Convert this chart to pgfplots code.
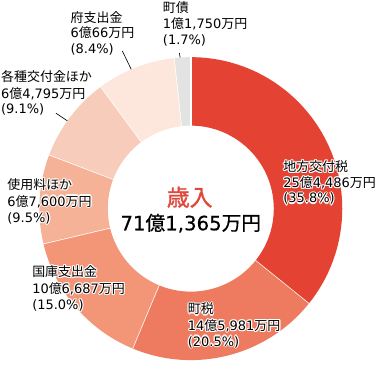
\documentclass[border=0pt]{standalone}
\usepackage{pgfplots}
\pgfplotsset{compat=1.18}
\usepackage{fontspec}
\setmainfont{DejaVu Sans}
\newfontfamily\cjk{Noto Sans CJK JP}
\newfontfamily\cjkb{Noto Sans CJK JP}[FakeBold=1.2]
\newfontfamily\cjkm{Noto Sans CJK JP}[FakeBold=0.5]
\newfontfamily\latm{DejaVu Sans}[FakeBold=0.5]
\newcommand\J[1]{{\cjk #1}}
\newcommand\JM[1]{{\cjkm #1}}
\definecolor{c1}{HTML}{E44232}
\definecolor{c2}{HTML}{EE7B5F}
\definecolor{c3}{HTML}{F29677}
\definecolor{c4}{HTML}{F5B297}
\definecolor{c5}{HTML}{F8CCBA}
\definecolor{c6}{HTML}{FDE6DC}
\definecolor{c7}{HTML}{E3E3E3}
\definecolor{cred}{HTML}{E0483A}
\tikzset{lblst/.style={anchor=west,inner sep=0pt,font=\fontsize{12.5bp}{15bp}\selectfont,text height=10.5bp,text depth=1.5bp}}
\newcommand\lline[3]{%
  \foreach \dx/\dy in {1.1/0,-1.1/0,0/1.1,0/-1.1,0.8/0.8,0.8/-0.8,-0.8/0.8,-0.8/-0.8}{%
    \node[lblst,white,xshift=\dx bp,yshift=\dy bp] at (axis cs:#1,#2) {#3};}%
  \node[lblst,black] at (axis cs:#1,#2) {#3};}
\begin{document}
\begin{tikzpicture}
\begin{axis}[width=377bp,height=370bp,scale only axis,hide axis,
  xmin=0,xmax=377,ymin=0,ymax=370,y dir=reverse,clip=false]
% leader lines
\addplot[black,line width=0.6pt] coordinates {(184,65) (186,77)};
\addplot[black,line width=0.6pt] coordinates {(129,63) (143,92)};
\addplot[black,line width=0.6pt] coordinates {(65,123) (86,137)};
\pgfplotsextra{
  \def\cum{0}
  \foreach \v/\c in {35.8/c1,20.5/c2,15.0/c3,9.5/c4,9.1/c5,8.4/c6,1.7/c7}{
    \pgfmathsetmacro\aa{90-3.6*\cum}
    \pgfmathsetmacro\ab{90-3.6*(\cum+\v)}
    \fill[\c] (axis cs:195,215) ++(\aa:146bp) arc[start angle=\aa,end angle=\ab,radius=146bp]
      -- ++(\ab+180:66bp) arc[start angle=\ab,end angle=\aa,radius=80bp] -- cycle;
    \draw[white,line width=1.4pt] (axis cs:195,215) ++(\ab:79bp) -- ++(\ab:68bp);
    \pgfmathsetmacro\nc{\cum+\v}
    \global\let\cum\nc
  }
  \draw[white,line width=1.4pt] (axis cs:195,215) ++(90:79bp) -- ++(90:68bp);
  \lline{168}{21}{\J{町債}}
  \lline{168}{37}{1\J{億}1,750\J{万円}}
  \lline{168}{52}{(1.7\%)}
  \lline{79}{31}{\J{府支出金}}
  \lline{79}{46}{6\J{億}66\J{万円}}
  \lline{79}{61}{(8.4\%)}
  \lline{12}{88}{\J{各種交付金ほか}}
  \lline{12}{104}{6\J{億}4,795\J{万円}}
  \lline{12}{119}{(9.1\%)}
  \lline{18}{192}{\J{使用料ほか}}
  \lline{18}{208}{6\J{億}7,600\J{万円}}
  \lline{18}{224}{(9.5\%)}
  \lline{42}{276}{\J{国庫支出金}}
  \lline{42}{292}{10\J{億}6,687\J{万円}}
  \lline{42}{308}{(15.0\%)}
  \lline{192}{312}{\J{町税}}
  \lline{192}{328}{14\J{億}5,981\J{万円}}
  \lline{192}{343}{(20.5\%)}
  \lline{284}{175}{\J{地方交付税}}
  \lline{284}{190}{25\J{億}4,486\J{万円}}
  \lline{284}{205}{(35.8\%)}
  \node[inner sep=0pt,text=cred,font=\cjkb\fontsize{22bp}{24bp}\selectfont] at (axis cs:194,204) {歳入};
  \node[inner sep=0pt,font=\latm\fontsize{19bp}{24bp}\selectfont] at (axis cs:195,229) {71\JM{億}1,365\JM{万円}};
}
\end{axis}
\end{tikzpicture}
\end{document}
